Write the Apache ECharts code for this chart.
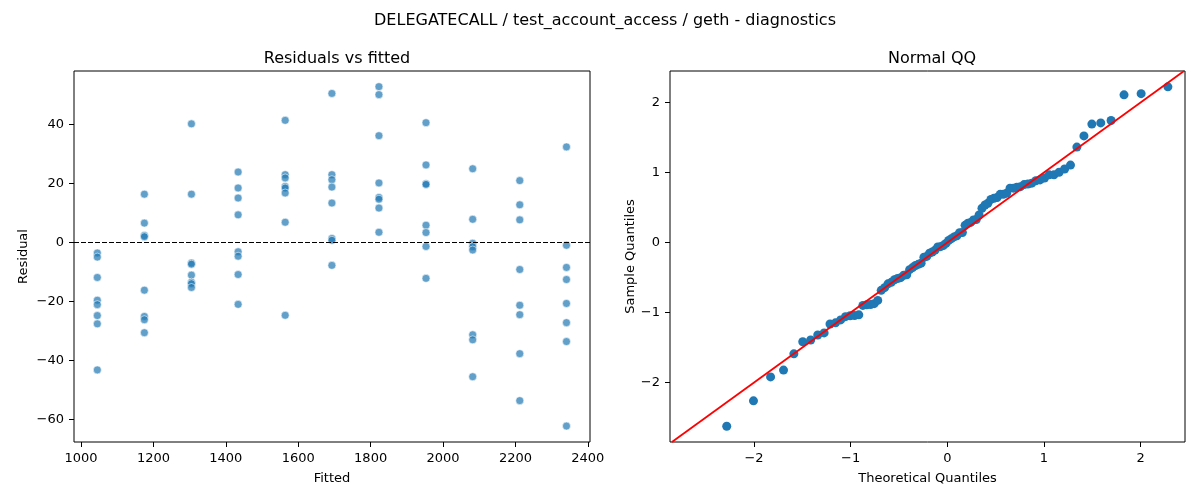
<!DOCTYPE html>
<html>
<head>
<meta charset="utf-8">
<script src="https://cdn.jsdelivr.net/npm/echarts@6/dist/echarts.min.js"></script>
<style>
  html, body { margin: 0; padding: 0; background: #fff; }
  #main { width: 1200px; height: 500px; }
</style>
</head>
<body>
<div id="main"></div>
<script>
// fitted levels (x of each column) and the residuals read at each one
var fittedLevels = [1045, 1175, 1305, 1434, 1564, 1693, 1823, 1953, 2082, 2212, 2341];
var residualsByLevel = [
    [-3.6, -5.0, -11.9, -19.6, -21.1, -24.8, -27.6, -43.2],
    [16.3, 6.5, 2.3, 1.9, -16.2, -25.1, -26.2, -30.6],
    [40.1, 16.3, -7.0, -7.4, -11.1, -13.5, -14.0, -15.3],
    [23.8, 18.4, 15.0, 9.3, -3.2, -4.7, -10.9, -21.0],
    [41.3, 22.9, 21.8, 18.9, 18.4, 16.7, 6.8, -24.7],
    [50.4, 22.9, 21.2, 18.7, 13.3, 1.3, 0.7, -7.8],
    [52.7, 50.0, 36.1, 20.1, 15.2, 14.6, 11.6, 3.4],
    [40.5, 26.2, 19.8, 19.6, 5.8, 3.3, -1.4, -12.2],
    [24.9, 7.8, -0.3, -1.5, -2.6, -31.3, -33.0, -45.5],
    [20.9, 12.7, 7.6, -9.2, -21.3, -24.5, -37.7, -53.6],
    [32.3, -1.0, -8.5, -12.6, -20.7, -27.2, -33.6, -62.2]
];
// residual standard deviation
var residualScale = 23.7;

// theoretical normal quantiles for the 88 points
var qqTheory = [-2.283, -2.006, -1.829, -1.695, -1.588, -1.496, -1.414, -1.341, -1.275, -1.214, -1.157,
    -1.104, -1.054, -1.006, -0.960, -0.916, -0.874, -0.834, -0.795, -0.757, -0.720, -0.684, -0.649,
    -0.614, -0.580, -0.547, -0.515, -0.483, -0.451, -0.420, -0.390, -0.359, -0.329, -0.300, -0.271,
    -0.242, -0.213, -0.184, -0.156, -0.127, -0.099, -0.070, -0.042, -0.014,
    0.014, 0.042, 0.070, 0.099, 0.127, 0.156, 0.184, 0.213, 0.242, 0.271, 0.300, 0.329, 0.359,
    0.390, 0.420, 0.451, 0.483, 0.515, 0.547, 0.580, 0.614, 0.649, 0.684, 0.720, 0.757, 0.795,
    0.834, 0.874, 0.916, 0.960, 1.006, 1.054, 1.104, 1.157, 1.214, 1.275, 1.341, 1.414, 1.496,
    1.588, 1.695, 1.829, 2.006, 2.283];

var residTicksX = [1000, 1200, 1400, 1600, 1800, 2000, 2200, 2400];
var residTicksY = [-60, -40, -20, 0, 20, 40];
var qqTicks = [-2, -1, 0, 1, 2];

var residRangeX = [980.6, 2406];
var residRangeY = [-67.6, 58.0];
var qqRangeX = [-2.87, 2.46];
var qqRangeY = [-2.85, 2.45];

// build scatter pairs
var residPoints = [];
var allResiduals = [];
for (var i = 0; i < fittedLevels.length; i++) {
    for (var j = 0; j < residualsByLevel[i].length; j++) {
        residPoints.push([fittedLevels[i], residualsByLevel[i][j]]);
        allResiduals.push(residualsByLevel[i][j]);
    }
}
var sorted = allResiduals.slice().sort(function(a, b) { return a - b; });
var qqPoints = [];
for (var k = 0; k < sorted.length; k++) {
    qqPoints.push([qqTheory[k], sorted[k] / residualScale]);
}
// 45 degree reference line across the shared part of both ranges
var lo = Math.max(qqRangeX[0], qqRangeY[0]);
var hi = Math.min(qqRangeX[1], qqRangeY[1]);
var qqLine = [[lo, lo], [hi, hi]];

var FONT = 'DejaVu Sans';
function minus(v) {
    return String(v).replace('-', '\u2212');
}

function axisCommon(ticks, name, gap) {
    return {
        type: 'value',
        name: name,
        nameLocation: 'middle',
        nameGap: gap,
        nameTextStyle: { color: '#000', fontFamily: FONT, fontSize: 13 },
        axisLine: { show: false, onZero: false },
        axisTick: { show: true, length: 5, customValues: ticks, lineStyle: { color: '#000', width: 1 } },
        axisLabel: { customValues: ticks, color: '#000', fontFamily: FONT, fontSize: 13, margin: 10, formatter: minus },
        splitLine: { show: false }
    };
}

var xLeft = axisCommon(residTicksX, 'Fitted', 30);
xLeft.gridIndex = 0; xLeft.min = residRangeX[0]; xLeft.max = residRangeX[1];
var yLeft = axisCommon(residTicksY, 'Residual', 44);
yLeft.gridIndex = 0; yLeft.min = residRangeY[0]; yLeft.max = residRangeY[1];
var xRight = axisCommon(qqTicks, 'Theoretical Quantiles', 30);
xRight.gridIndex = 1; xRight.min = qqRangeX[0]; xRight.max = qqRangeX[1];
var yRight = axisCommon(qqTicks, 'Sample Quantiles', 32);
yRight.gridIndex = 1; yRight.min = qqRangeY[0]; yRight.max = qqRangeY[1];

var chart = echarts.init(document.getElementById('main'));
var option = {
    animation: false,
    backgroundColor: '#fff',
    title: [{
        text: 'DELEGATECALL / test_account_access / geth - diagnostics',
        left: 600, top: 8, textAlign: 'center',
        textStyle: { color: '#000', fontFamily: FONT, fontSize: 16, fontWeight: 'normal' }
    }, {
        text: 'Residuals vs fitted',
        left: 332, top: 46, textAlign: 'center',
        textStyle: { color: '#000', fontFamily: FONT, fontSize: 16, fontWeight: 'normal' }
    }, {
        text: 'Normal QQ',
        left: 927, top: 46, textAlign: 'center',
        textStyle: { color: '#000', fontFamily: FONT, fontSize: 16, fontWeight: 'normal' }
    }],
    grid: [
        { left: 74, top: 71, width: 516, height: 371, show: true, borderColor: '#000', borderWidth: 1, backgroundColor: 'transparent' },
        { left: 670, top: 71, width: 515, height: 371, show: true, borderColor: '#000', borderWidth: 1, backgroundColor: 'transparent' }
    ],
    xAxis: [xLeft, xRight],
    yAxis: [yLeft, yRight],
    series: [{
        type: 'scatter',
        xAxisIndex: 0,
        yAxisIndex: 0,
        data: residPoints,
        symbolSize: 8,
        itemStyle: { color: '#1f77b4', opacity: 0.7, borderColor: '#fff', borderWidth: 0.8 },
        markLine: {
            silent: true,
            symbol: ['none', 'none'],
            label: { show: false },
            lineStyle: { color: '#000', width: 1, type: [5, 2] },
            data: [{ yAxis: 0 }]
        }
    }, {
        type: 'scatter',
        xAxisIndex: 1,
        yAxisIndex: 1,
        data: qqPoints,
        symbolSize: 9,
        itemStyle: { color: '#1f77b4', opacity: 1 }
    }, {
        type: 'line',
        xAxisIndex: 1,
        yAxisIndex: 1,
        data: qqLine,
        showSymbol: false,
        clip: true,
        lineStyle: { color: '#ff0000', width: 1.8 }
    }]
};
chart.setOption(option);
</script>
</body>
</html>
